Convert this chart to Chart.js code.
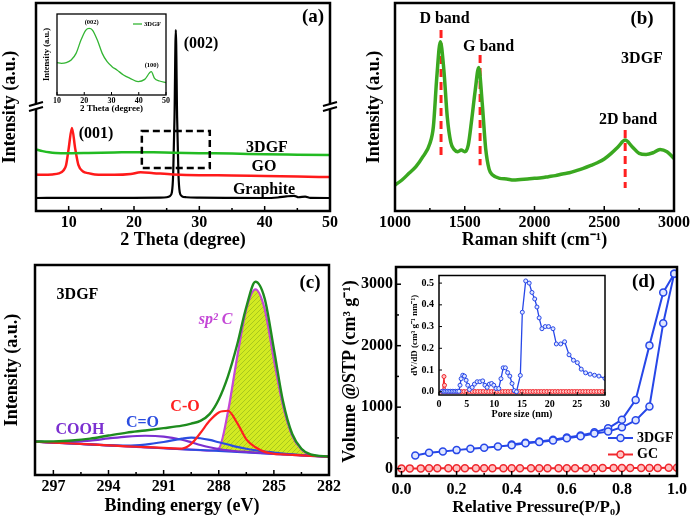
<!DOCTYPE html>
<html><head><meta charset="utf-8">
<script src="https://cdn.jsdelivr.net/npm/chart.js@4.4.1/dist/chart.umd.min.js"></script>
<style>
html,body{margin:0;padding:0;background:#fff;}
body{width:694px;height:521px;position:relative;overflow:hidden;}
canvas{position:absolute;}
</style></head><body>
<canvas id="ca" width="347" height="260" style="left:0;top:0"></canvas>
<canvas id="cb" width="347" height="260" style="left:347px;top:0"></canvas>
<canvas id="cc" width="347" height="261" style="left:0;top:260px"></canvas>
<canvas id="cd" width="364" height="261" style="left:330px;top:260px"></canvas>
<canvas id="cai" width="152" height="112" style="left:20px;top:5px"></canvas>
<canvas id="cdi" width="220" height="160" style="left:395px;top:268px"></canvas>
<script>
// ---------- DATA ----------
// (a) XRD
const xrdTicks = [10,20,30,40,50];
const xrdGraphiteX = [5,10,15,20,24,25,25.5,25.8,26.0,26.2,26.4,26.6,26.8,27.0,27.3,28,30,35,40,42,43.3,44.5,45.2,46.2,47,50];
const xrdGraphiteY = [6.25,6.3,6.3,6.35,6.4,6.6,7.2,9,18,45,87,45,18,9,7.2,6.6,6.4,6.3,6.25,6.5,7.0,7.3,6.6,6.9,6.3,6.25];
const xrdGoX = [5,6,7.5,8.5,9.2,9.6,10.0,10.5,11.0,11.5,12.2,13,14,17,19.5,21,23,26,30,35,40,45,50];
const xrdGoY = [17.5,17.4,17.6,18.1,19.5,22,30,39.9,30,22,19,18.2,17.6,17.4,17.8,18.6,18.2,17.6,17.2,17.1,16.8,16.6,16.3];
const xrd3dgfX = [5,6,7,8,10,13,17,20,23,26,30,35,40,45,50];
const xrd3dgfY = [29.6,28.8,28.2,27.9,27.8,27.9,28.1,28.3,28.2,28.0,27.8,27.6,27.3,27.1,26.9];
const insetTicks = [10,20,30,40,50];
const insetTheta = [10,11.6,13.4,15.2,17,18.8,20.6,21.8,23,24.8,26.6,28.4,30.2,32,34.4,36.8,39.8,42.2,44.6,45.8,47.6,50];
const insetInt = [39.9,39.1,39.9,43.2,51.4,67.9,80.2,82.3,80.2,67.9,51.4,41.1,35,30.9,24.7,20.6,16.5,19.3,28.8,20.6,17.3,15.2];
// (b) Raman
const ramanTicks = [1000,1500,2000,2500,3000];
const ramanX = [1000,1050,1100,1150,1200,1250,1275,1300,1325,1350,1375,1400,1425,1450,1475,1500,1525,1550,1575,1600,1625,1650,1675,1700,1750,1800,1850,1900,1950,2000,2050,2100,2150,2200,2250,2300,2350,2400,2450,2500,2550,2600,2650,2700,2750,2800,2850,2900,2950,3000];
const ramanY = [12.5,14.9,18.1,21.3,26.1,32.5,40.5,64.6,81.4,68,45,33,29.5,28.5,29.3,28.5,31.7,44,58,69,52,30,20,17.3,15.7,15.4,14.9,15.2,15.4,15.7,16.0,16.5,17.0,17.8,18.4,19.4,20.5,21.8,23.2,25.0,27.7,30.9,34.1,30.9,27.7,27.2,28.0,29.6,28.5,25.3];
const ramanMarkX = [1330,1610,2650];
const ramanMarkTop = [87,75,39];
const ramanMarkBottom = [26,22,11];
// (c) XPS C1s
const xpsTicks = [297,294,291,288,285,282];
const xpsE = [298,297,296,295,294,293,292,291,290,289.5,289,288.5,288,287.5,287,286.5,286,285.5,285,284.5,284,283.5,283,282];
const xpsBaseline = [15.9,15.45,15.0,14.55,14.1,13.65,13.2,12.75,12.3,12.08,11.85,11.63,11.4,11.18,10.95,10.73,10.5,10.28,10.05,9.83,9.6,9.38,9.15,8.7];
const xpsEnvelope = [15.9,16.0,16.4,17.3,18.8,20.2,21.2,22.3,23.5,24.5,25.8,29,36,47,62,80,92,84,60,35,19.5,12.5,9.8,8.8];
const xpsSp2 = [15.9,15.45,15.0,14.55,14.1,13.65,13.2,12.75,12.3,12.08,11.85,11.63,12.6,30,56,79,88.4,79,55,33,18.6,12.1,9.5,8.7];
const xpsCO = [15.9,15.45,15.0,14.55,14.1,13.65,13.3,12.9,12.6,14.8,20,25.8,29.8,30.6,24.8,17,13.2,11,10.1,9.83,9.6,9.38,9.15,8.7];
const xpsCdO = [15.9,15.45,15.0,14.6,14.2,14.0,14.5,15.7,17.3,17.8,17.5,16.7,15.6,14.5,13.4,12.5,11.8,11.2,10.7,10.2,9.8,9.5,9.2,8.7];
const xpsCOOH = [15.9,15.6,15.8,16.4,17.4,18.3,18.7,18.3,16.8,15.6,14.3,13.2,12.3,11.7,11.3,11.0,10.7,10.4,10.1,9.83,9.6,9.38,9.15,8.7];
// (d) N2 isotherm + pore size distribution
const betTicksX = [0,0.2,0.4,0.6,0.8,1.0];
const betTicksY = [0,1000,2000,3000];
const isoAdsP = [0.05,0.10,0.15,0.20,0.25,0.30,0.35,0.40,0.45,0.50,0.55,0.60,0.65,0.70,0.75,0.80,0.85,0.90,0.95,0.99];
const isoAdsV = [215,258,280,301,323,339,360,382,414,435,457,495,527,570,602,672,785,1011,2366,3172];
const isoDesP = [0.99,0.95,0.90,0.85,0.80,0.75,0.70,0.65,0.60,0.55,0.50,0.45,0.40];
const isoDesV = [3172,2866,2005,1118,796,656,590,540,505,470,442,420,392];
const gcP = [0.00,0.03,0.07,0.10,0.13,0.17,0.20,0.23,0.27,0.30,0.33,0.37,0.40,0.43,0.47,0.50,0.53,0.57,0.60,0.63,0.67,0.70,0.73,0.77,0.80,0.83,0.87,0.90,0.93,0.97,1.00];
const gcV = [3,4,4,5,5,5,5,5,6,6,6,6,6,7,7,7,7,7,8,8,8,8,9,9,9,10,10,11,12,13,14];
const psdTicksX = [0,5,10,15,20,25,30];
const psdTicksY = [0,0.1,0.2,0.3,0.4,0.5];
const psdBlueD = [0.6,0.9,1.2,1.5,1.8,2.1,2.4,2.7,3.0,3.3,3.6,3.8,4.0,4.3,4.6,4.9,5.2,5.5,6.0,6.4,6.9,7.4,7.9,8.3,8.7,9.1,9.5,9.9,10.3,10.8,11.2,11.6,12.0,12.4,12.8,13.2,13.6,14.0,14.7,15.06,15.67,16.3,16.8,17.3,17.7,18.1,18.6,19.2,19.8,20.6,21.2,22.0,22.7,23.5,24.3,25.0,25.7,26.5,27.3,28.1,28.9,30.0];
const psdBlueV = [0.002,0.002,0.002,0.002,0.002,0.002,0.002,0.002,0.002,0.002,0.002,0.03,0.06,0.076,0.072,0.053,0.03,0.01,0.02,0.035,0.046,0.046,0.05,0.03,0.02,0.035,0.038,0.03,0.015,0.015,0.06,0.11,0.11,0.088,0.072,0.038,0.005,0.0,0.075,0.366,0.51,0.5,0.457,0.427,0.39,0.34,0.29,0.3,0.3,0.29,0.22,0.22,0.23,0.17,0.145,0.134,0.104,0.087,0.081,0.076,0.072,0.061];
const psdRedD = [0.5,0.7,0.9,1.0,1.2,1.5,2.0,2.5,3.0,3.5,4.0,4.5,5.0,5.5,6.0,6.5,7.0,7.5,8.0,8.5,9.0,9.5,10.0,10.5,11.0,11.5,12.0,12.5,13.0,13.5,14.0,14.5,15.0,15.5,16.0,16.5,17.0,17.5,18.0,18.5,19.0,19.5,20.0,20.5,21.0,21.5,22.0,22.5,23.0,23.5,24.0,24.5,25.0,25.5,26.0,26.5,27.0,27.5,28.0,28.5,29.0,29.5,30.0];
const psdRedV = [0.001,0.002,0.07,0.03,0.002,0.001,0.001,0.001,0.001,0.001,0.001,0.001,0.001,0.001,0.001,0.001,0.001,0.001,0.001,0.001,0.001,0.001,0.001,0.001,0.001,0.001,0.001,0.001,0.001,0.001,0.001,0.001,0.001,0.001,0.001,0.001,0.001,0.001,0.001,0.001,0.001,0.001,0.001,0.001,0.001,0.001,0.001,0.001,0.001,0.001,0.001,0.001,0.001,0.001,0.001,0.001,0.001,0.001,0.001,0.001,0.001,0.001,0.001];

// ---------- HELPERS ----------
const F = "'Liberation Serif','Times New Roman',serif";
const fnt = (size, lh) => ({family:F, size, weight:'bold', lineHeight: lh || 1.1});
const xy = (xs, ys) => xs.map((x,i)=>({x, y:ys[i]}));
const BLACK = '#000';

function xScale(o){
  return {type:'linear', min:o.min, max:o.max, reverse:!!o.reverse,
    afterBuildTicks: s => { s.ticks = o.ticks.map(v=>({value:v})); },
    afterFit: s => { s.height = o.h; },
    grid:{display:false, drawTicks:false}, border:{display:false},
    ticks:{display:true, font:fnt(o.fs, 1.0), color:BLACK, padding:o.pad, maxRotation:0, autoSkip:false,
      callback: o.fmt || (v=>String(v))},
    title:{display:true, text:o.title, font:fnt(o.tfs), color:BLACK, padding:{top:0,bottom:o.tpad}}
  };
}
function yScale(o){
  const s = {type:'linear', min:o.min, max:o.max,
    afterFit: sc => { sc.width = o.w; },
    grid:{display:false, drawTicks:false}, border:{display:false},
    ticks:{display:!!o.ticks, font:fnt(o.fs||10, 0.5), color:BLACK, padding:o.pad||3, autoSkip:false,
      callback: o.fmt || (v=>String(v))},
    title:{display:true, text:o.title, font:fnt(o.tfs), color:BLACK, padding:{top:o.tpad, bottom:0}}
  };
  if (o.ticks) s.afterBuildTicks = sc => { sc.ticks = o.ticks.map(v=>({value:v})); };
  return s;
}
function line(data, color, w, extra){
  return Object.assign({data, borderColor:color, backgroundColor:color, borderWidth:w, pointRadius:0,
    cubicInterpolationMode:'monotone', fill:false}, extra||{});
}

const framePlugin = {
  id:'frame',
  beforeDraw(chart, args, o){
    if (!o.bg) return;
    const a = chart.chartArea, c = chart.ctx;
    c.save(); c.fillStyle='#fff'; c.fillRect(a.left,a.top,a.right-a.left,a.bottom-a.top); c.restore();
  },
  afterDraw(chart, args, o){
    const c = chart.ctx, a = chart.chartArea;
    c.save();
    ['x','y'].forEach(id=>{
      const t = o[id]; if (!t) return;
      const sc = chart.scales[id];
      const vals = sc.ticks.map(k=>k.value);
      const mins = [];
      if (t.mlen) for (let i=0;i<vals.length-1;i++) mins.push((vals[i]+vals[i+1])/2);
      c.strokeStyle = BLACK; c.lineWidth = t.lw || 1.5;
      const d = (v,len)=>{ const p = sc.getPixelForValue(v); c.beginPath();
        if (id==='x'){ c.moveTo(p,a.bottom); c.lineTo(p,a.bottom-len); }
        else { c.moveTo(a.left,p); c.lineTo(a.left+len,p); }
        c.stroke(); };
      vals.forEach(v=>d(v,t.len)); mins.forEach(v=>d(v,t.mlen));
    });
    c.strokeStyle = BLACK; c.lineWidth = o.lw || 2.5;
    c.strokeRect(a.left, a.top, a.right-a.left, a.bottom-a.top);
    if (o.breakY != null){
      const py = chart.scales.y.getPixelForValue(o.breakY);
      [a.left, a.right].forEach(x=>{
        c.fillStyle='#fff'; c.fillRect(x-3, py-3, 6, 5);
        c.strokeStyle=BLACK; c.lineWidth=2; c.beginPath();
        c.moveTo(x-7, py-1); c.lineTo(x+7, py-5);
        c.moveTo(x-7, py+4); c.lineTo(x+7, py);
        c.stroke();
      });
    }
    if (o.rect){
      const sx = chart.scales.x, sy = chart.scales.y, r = o.rect;
      const x0 = sx.getPixelForValue(r.x0), x1 = sx.getPixelForValue(r.x1);
      const y0 = sy.getPixelForValue(r.y1), y1 = sy.getPixelForValue(r.y0);
      c.setLineDash([7,4]); c.lineWidth = 2.5; c.strokeStyle = BLACK;
      c.strokeRect(x0, y0, x1-x0, y1-y0); c.setLineDash([]);
    }
    (o.legend||[]).forEach(L=>{
      const ds = chart.data.datasets[L.ds];
      c.strokeStyle = ds.borderColor; c.lineWidth = L.lw || ds.borderWidth;
      c.beginPath(); c.moveTo(L.x1, L.y); c.lineTo(L.x2, L.y); c.stroke();
      if (L.marker){
        c.beginPath(); c.arc((L.x1+L.x2)/2, L.y, ds.pointRadius, 0, Math.PI*2);
        c.fillStyle = ds.pointBackgroundColor; c.fill();
        c.lineWidth = ds.pointBorderWidth; c.strokeStyle = ds.borderColor; c.stroke();
      }
      c.fillStyle = BLACK; c.font = L.font; c.textAlign='left'; c.textBaseline='middle';
      c.fillText(ds.label, L.tx, L.y);
    });
    (o.texts||[]).forEach(t=>{
      c.font = t.font || `bold 16px ${F}`; c.fillStyle = t.color || BLACK;
      c.textAlign = t.align || 'center'; c.textBaseline = 'middle';
      c.fillText(t.t, t.x, t.y);
    });
    c.restore();
  }
};

function make(id, datasets, scales, padding, frame){
  return new Chart(document.getElementById(id), {
    type:'line',
    data:{datasets},
    options:{responsive:false, animation:false, devicePixelRatio:1, events:[],
      layout:{padding:Object.assign({left:0,bottom:0}, padding)},
      scales,
      plugins:{legend:{display:false}, tooltip:{enabled:false}, frame}
    },
    plugins:[framePlugin]
  });
}

function hatch(){
  const cv = document.createElement('canvas'); cv.width = 5; cv.height = 5;
  const g = cv.getContext('2d');
  g.fillStyle = '#d2ea22'; g.fillRect(0,0,5,5);
  g.strokeStyle = '#a9c81c'; g.lineWidth = 1;
  g.beginPath(); g.moveTo(0,5); g.lineTo(5,0); g.stroke();
  return g.createPattern(cv, 'repeat');
}

// ---------- (a) XRD ----------
make('ca', [
  line(xy(xrd3dgfX, xrd3dgfY), '#22bb22', 2.5),
  line(xy(xrdGoX, xrdGoY), '#ff1a1a', 2.5),
  line(xy(xrdGraphiteX, xrdGraphiteY), '#000', 2.2)
], {
  x: xScale({min:5, max:50, ticks:xrdTicks, fs:16, pad:4, title:'2 Theta (degree)', tfs:18, tpad:10, h:49}),
  y: yScale({min:0, max:100, title:'Intensity (a.u.)', tfs:18, tpad:0, w:36})
}, {top:3, right:17}, {
  x:{len:5, mlen:3}, breakY:50,
  rect:{x0:21.2, x1:31.6, y0:20.7, y1:38.5},
  texts:[
    {t:'(a)', x:313, y:17, font:`bold 19px ${F}`},
    {t:'(002)', x:201, y:44},
    {t:'(001)', x:96, y:134},
    {t:'3DGF', x:267, y:147.5},
    {t:'GO', x:264, y:167},
    {t:'Graphite', x:264, y:190}
  ]
});

// inset (a)
make('cai', [
  Object.assign(line(xy(insetTheta, insetInt), '#33b533', 1.3), {label:'3DGF'})
], {
  x: xScale({min:10, max:50, ticks:insetTicks, fs:8, pad:2, title:'2 Theta (degree)', tfs:9, tpad:3.5, h:22}),
  y: yScale({min:0, max:100, title:'Intensity (a.u.)', tfs:8.5, tpad:22, w:37})
}, {top:9, right:6}, {
  bg:true, lw:1.3, x:{len:3, mlen:0, lw:1},
  legend:[{ds:0, x1:113, x2:122, y:19, tx:124, lw:1.3, font:`bold 6.5px ${F}`}],
  texts:[
    {t:'(002)', x:71.7, y:17.7, font:`bold 6.5px ${F}`},
    {t:'(100)', x:131.7, y:60.7, font:`bold 6.5px ${F}`}
  ]
});

// ---------- (b) Raman ----------
const ramanSets = [line(xy(ramanX, ramanY), '#3aa820', 3.5)];
ramanMarkX.forEach((x,i)=>{
  ramanSets.push(line([{x, y:ramanMarkTop[i]},{x, y:ramanMarkBottom[i]}], '#ff2020', 3, {borderDash:[8,5], cubicInterpolationMode:'default'}));
});
make('cb', ramanSets, {
  x: xScale({min:1000, max:3000, ticks:ramanTicks, fs:16, pad:4, title:'Raman shift (cm\u207B\u00B9)', tfs:18, tpad:10, h:49}),
  y: yScale({min:0, max:100, title:'Intensity (a.u.)', tfs:18, tpad:17, w:48})
}, {top:3, right:18}, {
  x:{len:5, mlen:3},
  texts:[
    {t:'(b)', x:295, y:19, font:`bold 19px ${F}`},
    {t:'D band', x:97.5, y:18.5},
    {t:'G band', x:141.5, y:46.5},
    {t:'3DGF', x:295, y:58.5},
    {t:'2D band', x:281, y:120}
  ]
});

// ---------- (c) XPS ----------
make('cc', [
  line(xy(xpsE, xpsBaseline), '#2b4de0', 2, {cubicInterpolationMode:'default', order:1}),
  line(xy(xpsE, xpsSp2), '#c447d6', 2.2, {order:2, fill:{target:0, above:hatch(), below:'rgba(0,0,0,0)'}}),
  line(xy(xpsE, xpsCO), '#ff2020', 2.2, {order:0}),
  line(xy(xpsE, xpsCdO), '#2b4de0', 2.2, {order:0}),
  line(xy(xpsE, xpsCOOH), '#7b2fd0', 2.2, {order:0}),
  line(xy(xpsE, xpsEnvelope), '#1e8c1e', 2.4, {order:-1})
], {
  x: xScale({min:282, max:298, reverse:true, ticks:xpsTicks, fs:16, pad:4, title:'Binding energy (eV)', tfs:18, tpad:4.4, h:46}),
  y: yScale({min:0, max:100, title:'Intensity (a.u.)', tfs:18, tpad:2, w:35})
}, {top:5, right:18}, {
  x:{len:5, mlen:3},
  texts:[
    {t:'3DGF', x:77.5, y:35},
    {t:'(c)', x:310, y:23.5, font:`bold 19px ${F}`},
    {t:'sp\u00B2 C', x:215.5, y:60, color:'#c447d6', font:`italic bold 16px ${F}`},
    {t:'C-O', x:185, y:146.5, color:'#ff2020'},
    {t:'C=O', x:142.5, y:162.5, color:'#2b4de0'},
    {t:'COOH', x:80, y:170, color:'#7b2fd0'}
  ]
});

// ---------- (d) BET ----------
const BLUE = '#2747e8', RED = '#f0282e';
const mark = (color, fill, r) => ({pointRadius:r, pointBorderWidth:1.5, pointBackgroundColor:fill, pointBorderColor:color, cubicInterpolationMode:'default', tension:0});
make('cd', [
  Object.assign(line(xy(isoAdsP, isoAdsV), BLUE, 2), mark(BLUE, '#dfe6ff', 3.5), {label:'3DGF'}),
  Object.assign(line(xy(isoDesP, isoDesV), BLUE, 2), mark(BLUE, '#dfe6ff', 3.5), {label:''}),
  Object.assign(line(xy(gcP, gcV), RED, 2), mark(RED, '#ffc4c4', 3.5), {label:'GC'})
], {
  x: xScale({min:-0.02, max:1.0, ticks:betTicksX, fs:16, pad:6, fmt:v=>v.toFixed(1), title:'Relative Pressure(P/P\u2080)', tfs:17, tpad:4.4, h:45}),
  y: yScale({min:-120, max:3280, ticks:betTicksY, fs:16, pad:3, title:'Volume @STP (cm\u00B3 g\u207B\u00B9)', tfs:18, tpad:10, w:66})
}, {top:4, right:17}, {
  x:{len:5, mlen:3}, y:{len:5, mlen:3},
  legend:[
    {ds:0, x1:278, x2:303, y:178, tx:307, marker:true, font:`bold 14px ${F}`},
    {ds:2, x1:278, x2:303, y:194.5, tx:307, marker:true, font:`bold 14px ${F}`}
  ],
  texts:[{t:'(d)', x:313.5, y:22.5, font:`bold 19px ${F}`}]
});

// inset (d)
make('cdi', [
  Object.assign(line(xy(psdBlueD, psdBlueV), BLUE, 1.3), {pointRadius:2, pointBorderWidth:1, pointBackgroundColor:'#dfe6ff', pointBorderColor:BLUE, cubicInterpolationMode:'default', tension:0}),
  Object.assign(line(xy(psdRedD, psdRedV), RED, 1.3), {pointRadius:2, pointBorderWidth:1, pointBackgroundColor:'#ffc4c4', pointBorderColor:RED, cubicInterpolationMode:'default', tension:0})
], {
  x: xScale({min:0, max:30, ticks:psdTicksX, fs:10, pad:4, title:'Pore size (nm)', tfs:10, tpad:8.5, h:33}),
  y: yScale({min:-0.015, max:0.535, ticks:psdTicksY, fs:10, pad:5, fmt:v=>v.toFixed(1), title:'dV/dD (cm\u00B3 g\u207B\u00B9 nm\u207B\u00B9)', tfs:9, tpad:15, w:44})
}, {top:6, right:10}, {
  bg:true, lw:1.5, x:{len:3, mlen:0, lw:1}, y:{len:3, mlen:0, lw:1}
});
</script></body></html>
